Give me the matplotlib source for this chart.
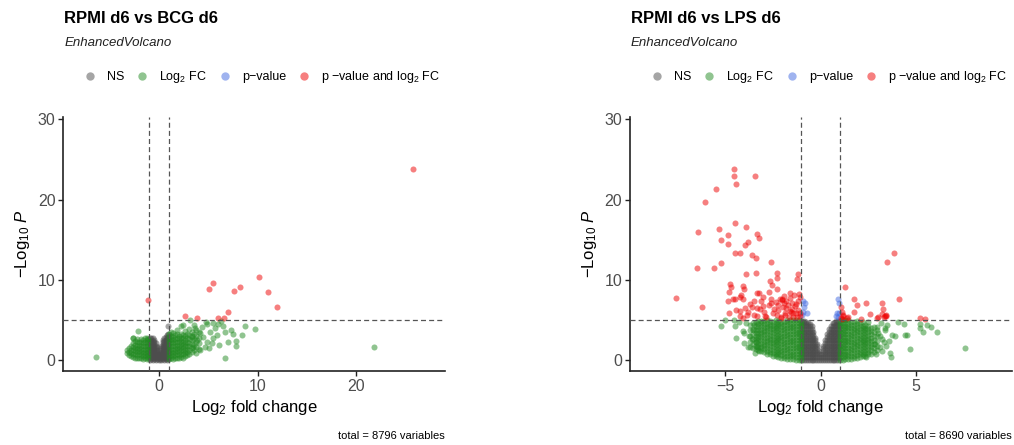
import matplotlib.pyplot as plt
import numpy as np
from matplotlib.lines import Line2D

plt.rcParams["font.family"] = ["Liberation Sans", "DejaVu Sans"]
plt.rcParams["mathtext.fontset"] = "custom"
plt.rcParams["mathtext.rm"] = "Liberation Sans"
plt.rcParams["mathtext.it"] = "Liberation Sans:italic"
plt.rcParams["mathtext.bf"] = "Liberation Sans:bold"

"""
Data read off the two EnhancedVolcano panels (log2 FC, -log10 p)
Dense clouds are given as columns: x -> list of y values
"""

# ---- RPMI d6 vs BCG d6 ----
bcg_ns_cols = {
    -0.95: [0.0, 0.3, 0.6, 0.9, 1.2, 1.5, 1.8, 2.1, 2.4, 2.7],
    -0.8: [0.1, 0.4, 0.7, 1.0, 1.3, 1.6, 1.9, 2.2, 2.5, 2.8],
    -0.65: [0.0, 0.3, 0.6, 0.9, 1.2, 1.5, 1.8, 2.1, 2.4, 2.7],
    -0.5: [0.1, 0.4, 0.7, 1.0, 1.3, 1.6, 1.9, 2.2, 2.5],
    -0.35: [0.0, 0.3, 0.6, 0.9, 1.2, 1.5, 1.8, 2.1],
    -0.2: [0.1, 0.4, 0.7, 1.0, 1.3, 1.6],
    -0.05: [0.0, 0.3, 0.6],
    0.1: [0.1, 0.4, 0.7, 1.0],
    0.25: [0.0, 0.3, 0.6, 0.9, 1.2, 1.5, 1.8],
    0.4: [0.1, 0.4, 0.7, 1.0, 1.3, 1.6, 1.9, 2.2, 2.5],
    0.55: [0.0, 0.3, 0.6, 0.9, 1.2, 1.5, 1.8, 2.1, 2.4, 2.8],
    0.7: [0.1, 0.4, 0.7, 1.0, 1.3, 1.6, 1.9, 2.2, 2.5, 2.9],
    0.85: [0.0, 0.3, 0.6, 0.9, 1.2, 1.5, 1.8, 2.1, 2.4, 2.7, 3.1],
    0.96: [0.1, 0.4, 0.7, 1.0, 1.3, 1.6, 1.9, 2.2, 2.5, 2.9, 3.3, 4.2],
}

bcg_fc_cols = {
    -3.25: [0.9, 1.3],
    -3.05: [0.6, 1.0, 1.5],
    -2.85: [0.5, 0.9, 1.3, 1.8],
    -2.65: [0.4, 0.8, 1.2, 1.6, 2.1, 2.7],
    -2.45: [0.3, 0.7, 1.1, 1.5, 1.9, 2.4],
    -2.25: [0.2, 0.6, 1.0, 1.4, 1.8, 2.2, 2.6],
    -2.1: [3.6],
    -2.05: [0.3, 0.7, 1.1, 1.5, 1.9, 2.3],
    -1.85: [0.2, 0.6, 1.0, 1.4, 1.8, 2.2, 2.6],
    -1.65: [0.1, 0.5, 0.9, 1.3, 1.7, 2.1, 2.5],
    -1.45: [0.2, 0.6, 1.0, 1.4, 1.8, 2.2, 2.7],
    -1.25: [0.1, 0.5, 0.9, 1.3, 1.7, 2.1, 2.5, 2.8],
    -1.08: [0.2, 0.6, 1.0, 1.4, 1.8, 2.2, 2.6],
    1.05: [0.1, 0.5, 0.9, 1.3, 1.7, 2.1, 2.5, 2.9, 3.3],
    1.25: [0.2, 0.6, 1.0, 1.4, 1.8, 2.2, 2.6, 3.0, 3.5],
    1.45: [0.1, 0.5, 0.9, 1.3, 1.7, 2.1, 2.5, 2.9, 3.4],
    1.65: [0.2, 0.6, 1.0, 1.4, 1.8, 2.2, 2.6, 3.1],
    1.85: [0.3, 0.7, 1.1, 1.5, 1.9, 2.3, 2.7, 3.2, 3.8],
    2.05: [0.2, 0.6, 1.0, 1.4, 1.8, 2.2, 2.6, 3.0],
    2.25: [0.4, 0.8, 1.2, 1.6, 2.0, 2.4, 2.8, 3.3, 4.3],
    2.45: [0.3, 0.7, 1.1, 1.5, 1.9, 2.3, 2.7, 3.1],
    2.65: [0.5, 0.9, 1.3, 1.7, 2.1, 2.5, 3.0, 3.6],
    2.85: [0.6, 1.0, 1.4, 1.8, 2.2, 2.7, 3.2],
    3.05: [0.8, 1.2, 1.7, 2.1, 2.6, 3.1, 3.9],
    3.3: [1.0, 1.5, 2.0, 2.5, 3.0, 3.5],
    3.55: [1.2, 1.9, 2.6, 3.3, 4.4],
    3.8: [0.9, 1.6, 2.3, 3.0, 3.7],
    4.05: [1.4, 2.1, 2.8, 3.5],
}

bcg_fc_sparse = [
    (-6.4, 0.37), (21.8, 1.65), (9.7, 3.85), (8.75, 4.2), (8.4, 3.1),
    (7.85, 2.4), (7.85, 1.75), (7.3, 3.75), (7.05, 2.25), (6.65, 0.3),
    (6.1, 1.85), (7.55, 3.3), (6.5, 4.3), (6.3, 4.9), (6.7, 3.55),
    (5.5, 2.7), (5.7, 3.95), (4.85, 4.55), (5.2, 3.55), (4.5, 2.9),
    (4.15, 1.25), (4.65, 1.65), (5.35, 2.1), (3.15, 5.0), (3.65, 3.95),
    (3.85, 2.5), (3.5, 1.65), (4.2, 3.4), (4.9, 2.3), (5.9, 3.1),
    (6.0, 4.5), (5.5, 4.6), (4.4, 4.1), (3.3, 2.9), (5.1, 1.5),
    (2.45, 4.35), (4.75, 4.7), (-2.6, 2.7),
]

bcg_both = [
    (25.8, 23.8), (-1.08, 7.5), (10.2, 10.3), (5.45, 9.55), (5.1, 8.85),
    (7.6, 8.65), (8.25, 9.05), (11.05, 8.45), (11.95, 6.65), (7.05, 6.0),
    (2.65, 5.45), (3.9, 5.25), (5.95, 5.25), (6.6, 5.2),
]

# ---- RPMI d6 vs LPS d6 ----
lps_ns_cols = {
    -0.97: [0.0, 0.35, 0.7, 1.05, 1.4, 1.75, 2.1, 2.45, 2.8, 3.15, 3.5, 3.85, 4.2, 4.55, 4.85],
    -0.87: [0.05, 0.4, 0.75, 1.1, 1.45, 1.8, 2.15, 2.5, 2.85, 3.2, 3.55, 3.9, 4.25, 4.6, 4.9],
    -0.77: [0.0, 0.35, 0.7, 1.05, 1.4, 1.75, 2.1, 2.45, 2.8, 3.15, 3.5, 3.85, 4.2, 4.55, 4.8],
    -0.67: [0.05, 0.4, 0.75, 1.1, 1.45, 1.8, 2.15, 2.5, 2.85, 3.2, 3.55, 3.9, 4.25, 4.6],
    -0.57: [0.0, 0.35, 0.7, 1.05, 1.4, 1.75, 2.1, 2.45, 2.8, 3.15, 3.5, 3.85, 4.2, 4.5],
    -0.47: [0.05, 0.4, 0.75, 1.1, 1.45, 1.8, 2.15, 2.5, 2.85, 3.2, 3.55, 3.9, 4.2],
    -0.37: [0.0, 0.35, 0.7, 1.05, 1.4, 1.75, 2.1, 2.45, 2.8, 3.15, 3.5],
    -0.27: [0.05, 0.4, 0.75, 1.1, 1.45, 1.8, 2.15, 2.5, 2.8],
    -0.17: [0.0, 0.35, 0.7, 1.05, 1.4, 1.75, 2.0],
    -0.07: [0.05, 0.4, 0.75, 1.1],
    0.03: [0.0, 0.35, 0.7],
    0.13: [0.05, 0.4, 0.75, 1.1, 1.45, 1.7],
    0.23: [0.0, 0.35, 0.7, 1.05, 1.4, 1.75, 2.1, 2.5],
    0.33: [0.05, 0.4, 0.75, 1.1, 1.45, 1.8, 2.15, 2.5, 2.85, 3.3],
    0.43: [0.0, 0.35, 0.7, 1.05, 1.4, 1.75, 2.1, 2.45, 2.8, 3.15, 3.5, 3.9],
    0.53: [0.05, 0.4, 0.75, 1.1, 1.45, 1.8, 2.15, 2.5, 2.85, 3.2, 3.55, 3.9, 4.3],
    0.63: [0.0, 0.35, 0.7, 1.05, 1.4, 1.75, 2.1, 2.45, 2.8, 3.15, 3.5, 3.85, 4.2, 4.6],
    0.73: [0.05, 0.4, 0.75, 1.1, 1.45, 1.8, 2.15, 2.5, 2.85, 3.2, 3.55, 3.9, 4.25, 4.6],
    0.83: [0.0, 0.35, 0.7, 1.05, 1.4, 1.75, 2.1, 2.45, 2.8, 3.15, 3.5, 3.85, 4.2, 4.55, 4.85],
    0.93: [0.05, 0.4, 0.75, 1.1, 1.45, 1.8, 2.15, 2.5, 2.85, 3.2, 3.55, 3.9, 4.25, 4.6, 4.9],
    0.99: [0.2, 0.9, 1.6, 2.3, 3.0, 3.7, 4.4],
}

lps_fc_cols = {
    -3.7: [1.6, 2.3, 3.0, 3.7, 4.4],
    -3.55: [1.5, 2.0, 2.6, 3.2, 3.9, 4.6],
    -3.4: [1.4, 1.8, 2.2, 2.6, 3.0, 3.4, 3.8, 4.2, 4.7],
    -3.25: [1.3, 1.65, 2.0, 2.35, 2.7, 3.05, 3.4, 3.75, 4.1, 4.5, 4.85],
    -3.1: [1.1, 1.45, 1.8, 2.15, 2.5, 2.85, 3.2, 3.55, 3.9, 4.25, 4.6, 4.9],
    -2.95: [1.0, 1.35, 1.7, 2.05, 2.4, 2.75, 3.1, 3.45, 3.8, 4.15, 4.5, 4.85],
    -2.8: [0.8, 1.15, 1.5, 1.85, 2.2, 2.55, 2.9, 3.25, 3.6, 3.95, 4.3, 4.65, 4.95],
    -2.65: [0.7, 1.05, 1.4, 1.75, 2.1, 2.45, 2.8, 3.15, 3.5, 3.85, 4.2, 4.55, 4.9],
    -2.5: [0.55, 0.9, 1.25, 1.6, 1.95, 2.3, 2.65, 3.0, 3.35, 3.7, 4.05, 4.4, 4.75],
    -2.35: [0.45, 0.8, 1.15, 1.5, 1.85, 2.2, 2.55, 2.9, 3.25, 3.6, 3.95, 4.3, 4.65, 4.95],
    -2.2: [0.35, 0.7, 1.05, 1.4, 1.75, 2.1, 2.45, 2.8, 3.15, 3.5, 3.85, 4.2, 4.55, 4.9],
    -2.05: [0.25, 0.6, 0.95, 1.3, 1.65, 2.0, 2.35, 2.7, 3.05, 3.4, 3.75, 4.1, 4.45, 4.8],
    -1.9: [0.2, 0.55, 0.9, 1.25, 1.6, 1.95, 2.3, 2.65, 3.0, 3.35, 3.7, 4.05, 4.4, 4.75],
    -1.75: [0.15, 0.5, 0.85, 1.2, 1.55, 1.9, 2.25, 2.6, 2.95, 3.3, 3.65, 4.0, 4.35, 4.7, 4.95],
    -1.6: [0.1, 0.45, 0.8, 1.15, 1.5, 1.85, 2.2, 2.55, 2.9, 3.25, 3.6, 3.95, 4.3, 4.65, 4.95],
    -1.45: [0.1, 0.45, 0.8, 1.15, 1.5, 1.85, 2.2, 2.55, 2.9, 3.25, 3.6, 3.95, 4.3, 4.65, 4.95],
    -1.3: [0.05, 0.4, 0.75, 1.1, 1.45, 1.8, 2.15, 2.5, 2.85, 3.2, 3.55, 3.9, 4.25, 4.6, 4.95],
    -1.15: [0.05, 0.4, 0.75, 1.1, 1.45, 1.8, 2.15, 2.5, 2.85, 3.2, 3.55, 3.9, 4.25, 4.6, 4.95],
    -1.03: [0.0, 0.35, 0.7, 1.05, 1.4, 1.75, 2.1, 2.45, 2.8, 3.15, 3.5, 3.85, 4.2, 4.55, 4.9],
    1.03: [0.0, 0.35, 0.7, 1.05, 1.4, 1.75, 2.1, 2.45, 2.8, 3.15, 3.5, 3.85, 4.2, 4.55, 4.9],
    1.15: [0.05, 0.4, 0.75, 1.1, 1.45, 1.8, 2.15, 2.5, 2.85, 3.2, 3.55, 3.9, 4.25, 4.6, 4.95],
    1.3: [0.1, 0.45, 0.8, 1.15, 1.5, 1.85, 2.2, 2.55, 2.9, 3.25, 3.6, 3.95, 4.3, 4.65, 4.95],
    1.45: [0.1, 0.45, 0.8, 1.15, 1.5, 1.85, 2.2, 2.55, 2.9, 3.25, 3.6, 3.95, 4.3, 4.65, 4.95],
    1.6: [0.15, 0.5, 0.85, 1.2, 1.55, 1.9, 2.25, 2.6, 2.95, 3.3, 3.65, 4.0, 4.35, 4.7],
    1.75: [0.2, 0.55, 0.9, 1.25, 1.6, 1.95, 2.3, 2.65, 3.0, 3.35, 3.7, 4.05, 4.4, 4.8],
    1.9: [0.3, 0.65, 1.0, 1.35, 1.7, 2.05, 2.4, 2.75, 3.1, 3.45, 3.8, 4.15, 4.5, 4.9],
    2.05: [0.35, 0.7, 1.05, 1.4, 1.75, 2.1, 2.45, 2.8, 3.15, 3.5, 3.85, 4.2, 4.6],
    2.2: [0.45, 0.8, 1.15, 1.5, 1.85, 2.2, 2.55, 2.9, 3.25, 3.6, 3.95, 4.3, 4.75],
    2.35: [0.55, 0.9, 1.25, 1.6, 1.95, 2.3, 2.65, 3.0, 3.35, 3.7, 4.05, 4.4],
    2.5: [0.7, 1.05, 1.4, 1.75, 2.1, 2.45, 2.8, 3.15, 3.5, 3.85, 4.2, 4.7],
    2.65: [0.8, 1.2, 1.6, 2.0, 2.4, 2.8, 3.2, 3.6, 4.0],
    2.8: [1.0, 1.5, 2.0, 2.5, 3.0, 3.5, 4.1],
    2.95: [1.2, 1.8, 2.4, 3.0, 3.7],
}

lps_fc_sparse = [
    (-5.2, 4.25), (-5.0, 5.0), (-4.55, 5.0), (-4.5, 4.25), (-4.4, 2.8),
    (-4.05, 3.65), (-4.0, 3.35), (-4.0, 2.15), (-3.8, 1.6), (-3.55, 3.8),
    (-3.35, 1.65), (-3.6, 2.6), (-3.9, 4.6), (-3.75, 3.0), (-3.5, 4.4),
    (-3.4, 2.2), (-4.25, 4.7), (-3.2, 1.1), (-3.45, 0.9),
    (7.55, 1.45), (4.7, 1.4), (6.07, 3.45), (5.77, 4.07), (5.58, 4.36),
    (5.34, 3.53), (5.2, 4.03), (5.2, 4.44), (4.38, 4.44), (4.5, 3.11),
    (4.42, 3.1), (3.89, 3.03), (3.72, 3.1), (3.38, 3.74), (3.63, 0.91),
    (3.7, 0.42), (2.9, 0.79), (3.23, 2.62), (3.33, 2.2), (2.4, 0.33),
    (2.93, 4.07), (3.1, 1.6), (3.5, 4.4), (3.0, 3.4), (3.15, 4.6),
    (2.85, 2.0), (4.05, 4.7), (3.2, 1.1), (3.45, 1.7), (3.6, 2.4),
    (3.1, 3.0), (3.35, 4.0),
]

lps_p = [
    (-0.94, 7.3), (-0.8, 7.05), (-0.86, 6.6), (-0.73, 5.8), (-0.96, 5.6),
    (-0.9, 6.0), (0.89, 7.55), (0.94, 7.05), (0.85, 5.8), (0.98, 5.8),
    (0.8, 5.5), (0.93, 5.3),
]

lps_both = [
    (-4.55, 23.8), (-4.54, 22.9), (-4.4, 21.9), (-3.42, 22.9), (-5.47, 21.3),
    (-6.04, 19.7), (-4.5, 17.1), (-3.91, 16.6), (-5.32, 16.3), (-6.39, 15.9),
    (-4.85, 15.6), (-3.35, 15.7), (-3.23, 15.2), (-5.2, 14.9), (-4.85, 14.5),
    (-3.82, 14.7), (-3.93, 14.3), (-4.45, 13.4), (-4.23, 13.3), (-3.61, 13.1),
    (-3.39, 12.7), (-2.59, 12.2), (-5.2, 12.1), (-5.57, 11.5), (-6.49, 11.5),
    (-3.91, 10.7), (-3.4, 10.8), (-2.27, 10.8), (-2.27, 10.25), (-1.19, 10.7),
    (-1.22, 10.05), (-2.65, 9.84), (-2.55, 9.3), (-4.76, 9.5), (-4.71, 9.1),
    (-4.08, 9.2), (-4.0, 8.9), (-4.8, 8.5), (-3.35, 8.4), (-3.23, 8.4),
    (-2.69, 8.5), (-2.3, 8.8), (-4.14, 8.1), (-4.23, 7.8), (-4.59, 7.6),
    (-4.08, 7.6), (-3.0, 7.9), (-1.61, 8.3), (-1.14, 8.2), (-2.01, 7.5),
    (-2.13, 7.6), (-1.92, 7.1), (-4.85, 7.3), (-3.46, 7.3), (-2.6, 7.1),
    (-1.49, 7.1), (-1.2, 7.3), (-7.56, 7.7), (-6.21, 6.6), (-4.4, 6.2),
    (-4.23, 6.1), (-3.79, 6.0), (-3.58, 6.6), (-3.18, 6.3), (-2.97, 6.0),
    (-2.43, 6.4), (-2.22, 6.85), (-1.82, 6.5), (-1.61, 6.1), (-1.35, 6.7),
    (-1.31, 5.9), (-4.79, 5.9), (-3.87, 5.6), (-3.35, 5.5), (-2.83, 5.4),
    (-2.3, 5.6), (-1.87, 5.6), (-1.43, 5.4), (-4.08, 5.2), (-2.07, 5.2),
    (-1.08, 5.8), (-2.0, 7.6), (-1.9, 8.0), (-1.8, 7.3), (-1.7, 6.9),
    (-1.6, 7.7), (-1.5, 6.4), (-1.4, 8.1), (-1.3, 7.0), (-1.2, 6.2),
    (-1.1, 7.8), (-1.1, 5.5), (-1.25, 5.3), (-1.45, 5.8), (-1.65, 5.3),
    (-1.85, 5.9), (-2.05, 5.4), (-2.2, 6.2), (-2.35, 7.2), (-2.5, 5.8),
    (-2.7, 6.8), (-2.9, 5.5), (-3.1, 7.3), (-3.3, 6.5), (-3.5, 5.6),
    (-3.7, 7.0), (-3.95, 6.5), (-4.2, 5.5), (-4.45, 7.6), (-1.55, 6.0),
    (-1.95, 6.6), (-2.6, 7.6), (-3.0, 6.7),
    (3.85, 13.3), (3.46, 12.2), (1.29, 9.1), (4.12, 7.6), (1.74, 7.6),
    (2.36, 7.1), (3.21, 7.1), (1.06, 6.6), (1.92, 6.8), (3.28, 6.35),
    (1.1, 6.0), (1.76, 6.0), (2.58, 5.7), (3.24, 5.7), (3.37, 5.5),
    (2.93, 5.2), (5.2, 5.2), (5.45, 5.1), (1.15, 5.5), (1.36, 5.2),
    (1.12, 5.1), (1.05, 5.2), (1.2, 5.6), (1.45, 5.3), (2.1, 5.1),
    (3.0, 5.3), (3.4, 5.6), (3.3, 5.4), (3.45, 5.5),
]

colours = {"NS": "#4d4d4d", "FC": "#228B22", "P": "#4169E1", "both": "#EE0000"}
legend_labels = ["NS", r"Log$_{2}$ FC", "p\u2212value", "p \u2212value and log$_{2}$ FC"]


def cols_to_xy(cols):
    x = [cx for cx, ys in cols.items() for _ in ys]
    y = [v for ys in cols.values() for v in ys]
    return np.array(x), np.array(y)


def pairs_to_xy(pairs):
    if not pairs:
        return np.array([]), np.array([])
    arr = np.array(pairs)
    return arr[:, 0], arr[:, 1]


def plot_volcano(ax, groups, xlim, xticks):
    for key, (x, y) in groups:
        ax.scatter(x, y, s=19, c=colours[key], alpha=0.5, linewidths=0, zorder=3)
    for xv in (-1, 1):
        ax.axvline(xv, color="#555555", lw=0.9, ls=(0, (4, 2.5)), zorder=4)
    ax.axhline(5, color="#555555", lw=0.9, ls=(0, (4, 2.5)), zorder=4)
    ax.set_xlim(*xlim)
    ax.set_ylim(-1.37, 30.26)
    ax.set_xticks(xticks)
    ax.set_yticks([0, 10, 20, 30])
    for side in ("top", "right"):
        ax.spines[side].set_visible(False)
    for side in ("left", "bottom"):
        ax.spines[side].set_color("#222222")
        ax.spines[side].set_linewidth(1.2)
    ax.tick_params(direction="out", length=3.5, width=1, color="#222222",
                   labelsize=11.5, labelcolor="#4d4d4d", pad=2)
    ax.set_xlabel(r"Log$_{2}$ fold change", fontsize=12, labelpad=3)
    ax.set_ylabel(r"$-$Log$_{10}$ $\mathit{P}$", fontsize=12, labelpad=4)


fig = plt.figure(figsize=(10.14, 4.45), dpi=100)

panels = [
    {
        "rect": [0.0624, 0.1663, 0.3765, 0.5701],
        "title": "RPMI d6 vs BCG d6",
        "total": "total = 8796 variables",
        "xlim": (-9.72, 29.04),
        "xticks": [0, 10, 20],
        "groups": [
            ("NS", cols_to_xy(bcg_ns_cols)),
            ("FC", cols_to_xy(bcg_fc_cols)),
            ("FC", pairs_to_xy(bcg_fc_sparse)),
            ("both", pairs_to_xy(bcg_both)),
        ],
        "legend_x": 82.5,
    },
    {
        "rect": [0.6213, 0.1663, 0.3764, 0.5701],
        "title": "RPMI d6 vs LPS d6",
        "total": "total = 8690 variables",
        "xlim": (-9.97, 10.0),
        "xticks": [-5, 0, 5],
        "groups": [
            ("NS", cols_to_xy(lps_ns_cols)),
            ("FC", cols_to_xy(lps_fc_cols)),
            ("FC", pairs_to_xy(lps_fc_sparse)),
            ("P", pairs_to_xy(lps_p)),
            ("both", pairs_to_xy(lps_both)),
        ],
        "legend_x": 649.5,
    },
]

for panel in panels:
    ax = fig.add_axes(panel["rect"])
    plot_volcano(ax, panel["groups"], panel["xlim"], panel["xticks"])
    left = panel["rect"][0]
    right = left + panel["rect"][2]

    fig.text(left + 0.001, 0.949, panel["title"], fontsize=12, fontweight="bold",
             va="baseline", ha="left")
    fig.text(left + 0.001, 0.897, "EnhancedVolcano", fontsize=9.5, style="italic",
             va="baseline", ha="left", color="#222222")
    fig.text(right, 0.02, panel["total"], fontsize=8, va="center", ha="right")

    handles = [
        Line2D([], [], ls="none", marker="o", markersize=6, markeredgewidth=0,
               color=colours[k], alpha=0.5)
        for k in ("NS", "FC", "P", "both")
    ]
    fig.legend(handles, legend_labels, loc="center left", ncol=4, frameon=False,
               fontsize=9, handlelength=1.2, handletextpad=0.76, columnspacing=0.82,
               borderpad=0, borderaxespad=0,
               bbox_to_anchor=(panel["legend_x"] / 1014, 0.826),
               bbox_transform=fig.transFigure)

fig.savefig("out.png", dpi=100)
